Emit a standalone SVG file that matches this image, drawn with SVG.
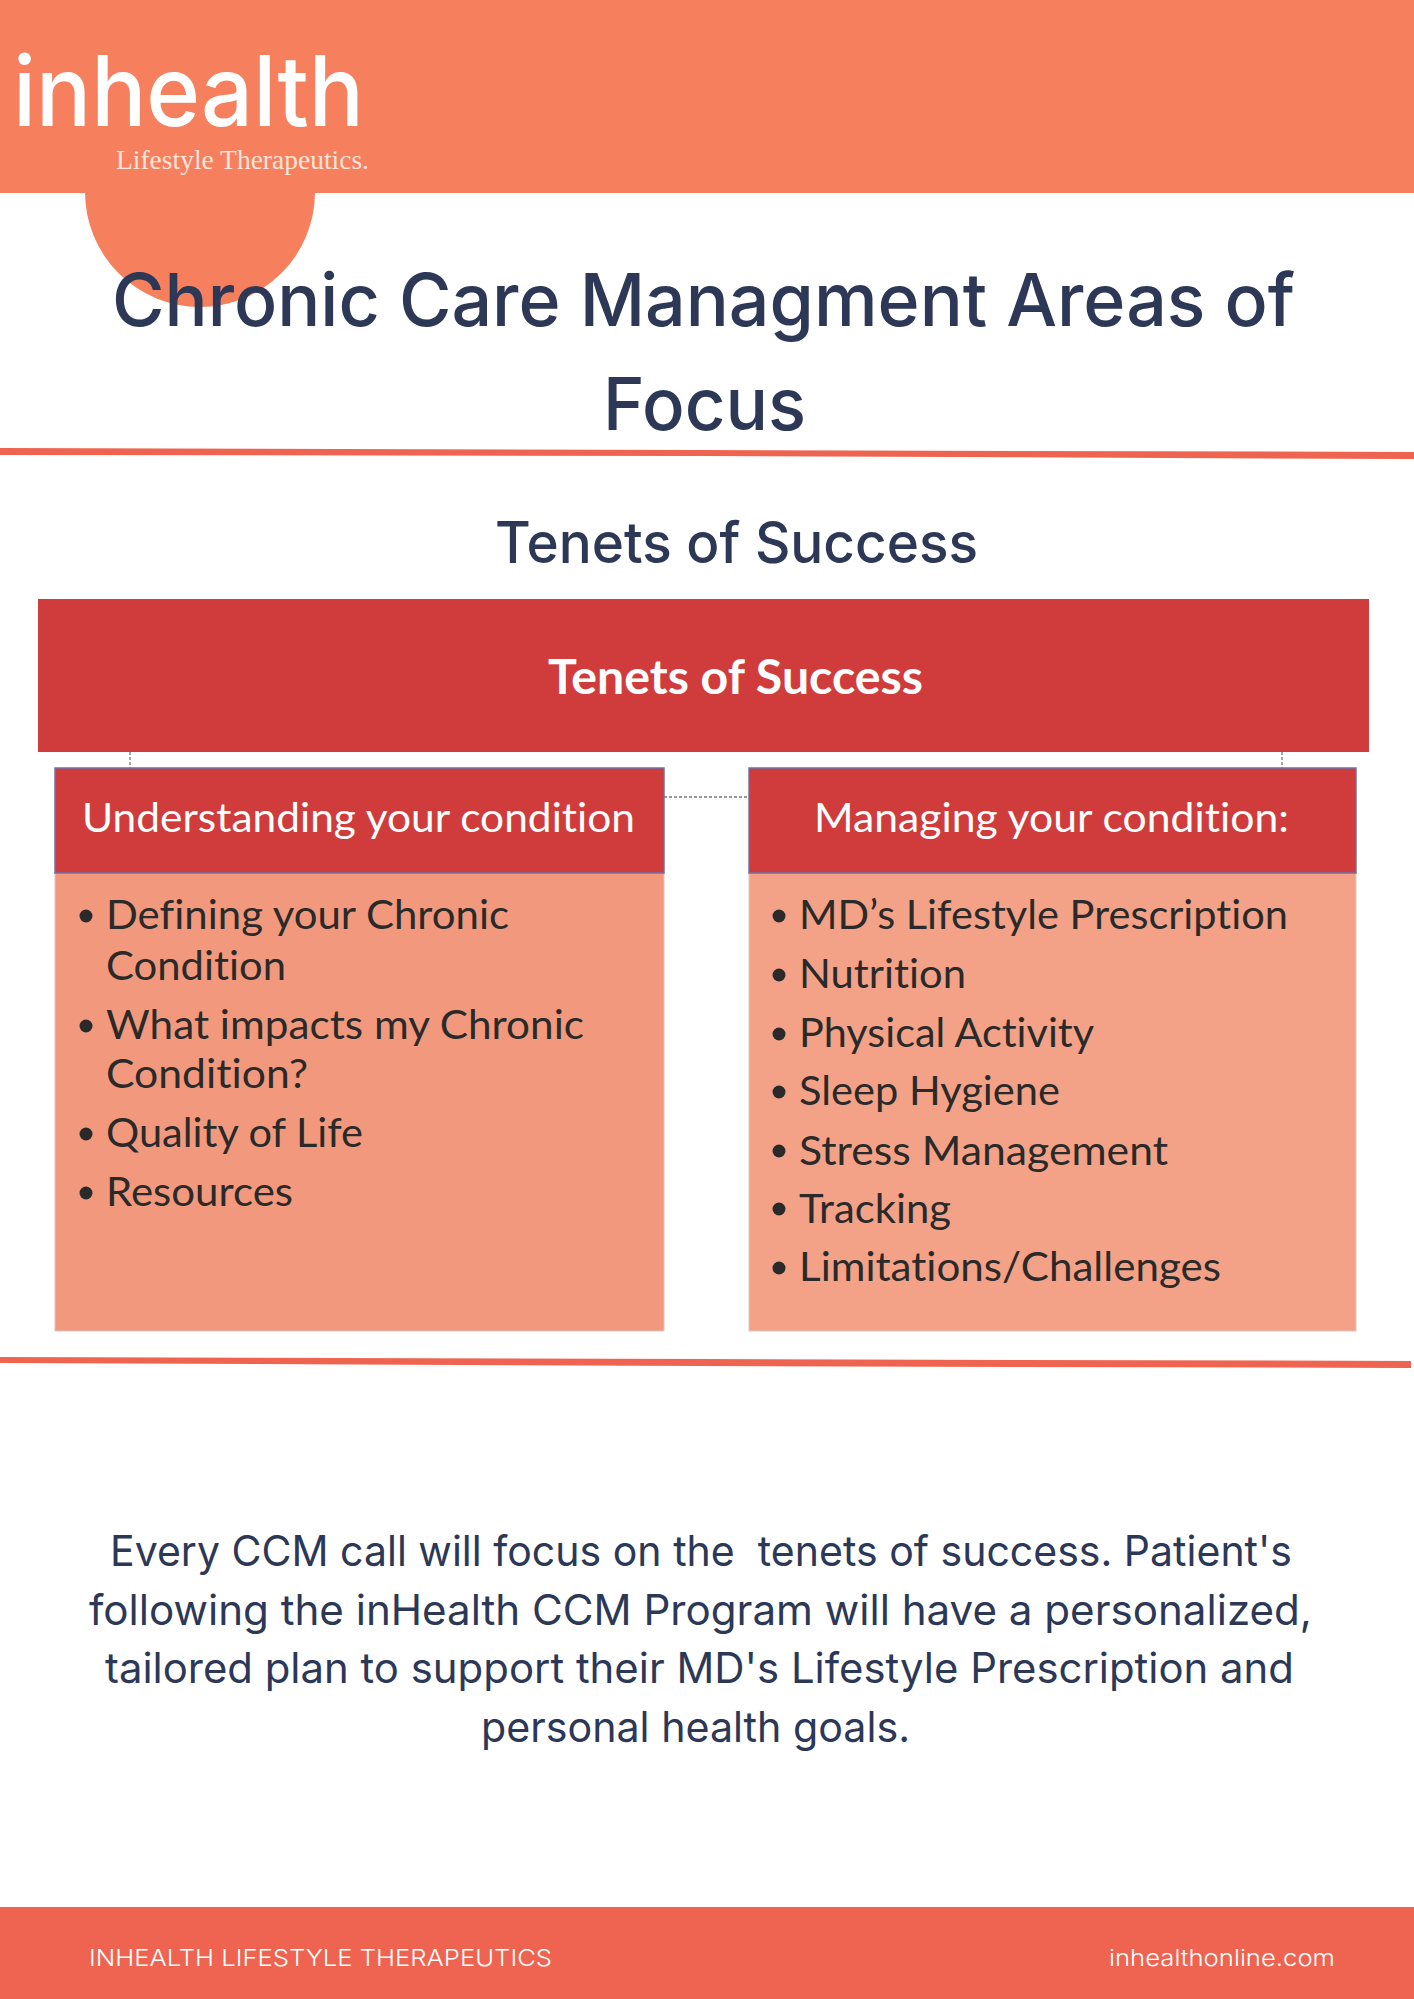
<svg xmlns="http://www.w3.org/2000/svg" width="1414" height="1999" viewBox="0 0 1414 1999">
<style>
.head{font-family:"Inter","Liberation Sans",sans-serif;fill:#2c3856;font-weight:500}
.para{font-family:"Inter","Liberation Sans",sans-serif;fill:#2c3856;font-size:42px;font-weight:400}
.cal{font-family:"Lato","Liberation Sans",sans-serif;font-variant-ligatures:none}
.hdr{font-size:41px;fill:#fff}
.item{font-size:41px;fill:#2a2a2a}
.foot{font-family:"Inter","Liberation Sans",sans-serif;fill:#fff;font-size:23px;font-weight:300}
.conn{stroke:#777;stroke-width:1.3;stroke-dasharray:3 2;fill:none}
.hbox{fill:#d03c3c;stroke:#6d70a8;stroke-width:1.5}
.rule{fill:#ee6450}
.dot{fill:#2a2a2a}
</style>
<rect width="1414" height="1999" fill="#fff"/>
<g id="header">
<circle cx="200" cy="192" r="115" fill="#f67f5d"/>
<rect width="1414" height="193" fill="#f67f5d"/>
<text x="13" y="126" font-family="Inter,'Liberation Sans',sans-serif" font-size="98" font-weight="500" fill="#fff" textLength="351" lengthAdjust="spacingAndGlyphs">inhealth</text>
<text x="116" y="169" font-family="'Liberation Serif',serif" font-size="27" fill="#fde4da" textLength="253" lengthAdjust="spacingAndGlyphs">Lifestyle Therapeutics.</text>
</g>
<g id="title">
<text class="head" x="112" y="326" font-size="73" textLength="1183" lengthAdjust="spacingAndGlyphs">Chronic Care Managment Areas of</text>
<text class="head" x="603" y="430" font-size="73" textLength="203" lengthAdjust="spacingAndGlyphs">Focus</text>
</g>
<polygon class="rule" points="0,448 700,450 1414,452 1414,459 700,456 0,455"/>
<text class="head" x="495" y="563" font-size="57" textLength="483" lengthAdjust="spacingAndGlyphs">Tenets of Success</text>
<g id="connectors">
<line class="conn" x1="130" y1="752" x2="130" y2="768"/>
<line class="conn" x1="1282" y1="752" x2="1282" y2="768"/>
<line class="conn" x1="664" y1="797" x2="749" y2="797"/>
</g>
<g id="banner">
<rect x="38" y="599" width="1331" height="153" fill="#d03c3c"/>
<text class="cal" x="548" y="694" font-size="47" font-weight="700" fill="#fff" textLength="375" lengthAdjust="spacingAndGlyphs">Tenets of Success</text>
</g>
<g id="left-card">
<rect x="55" y="873" width="609" height="458" fill="#f2997d" stroke="#d9c8c0" stroke-width="1"/>
<rect class="hbox" x="55" y="768" width="609" height="105"/>
<text class="cal hdr" x="82" y="832" textLength="553" lengthAdjust="spacingAndGlyphs">Understanding your condition</text>
<circle class="dot" cx="86" cy="916" r="6.5"/>
<text class="cal item" x="106" y="929" textLength="403" lengthAdjust="spacingAndGlyphs">Defining your Chronic</text>
<text class="cal item" x="106" y="980" textLength="180" lengthAdjust="spacingAndGlyphs">Condition</text>
<circle class="dot" cx="86" cy="1026" r="6.5"/>
<text class="cal item" x="106" y="1039" textLength="478" lengthAdjust="spacingAndGlyphs">What impacts my Chronic</text>
<text class="cal item" x="106" y="1088" textLength="202" lengthAdjust="spacingAndGlyphs">Condition?</text>
<circle class="dot" cx="86" cy="1134" r="6.5"/>
<text class="cal item" x="106" y="1147" textLength="257" lengthAdjust="spacingAndGlyphs">Quality of Life</text>
<circle class="dot" cx="86" cy="1193" r="6.5"/>
<text class="cal item" x="106" y="1206" textLength="187" lengthAdjust="spacingAndGlyphs">Resources</text>
</g>
<g id="right-card">
<rect x="749" y="873" width="607" height="458" fill="#f4a287" stroke="#d9c8c0" stroke-width="1"/>
<rect class="hbox" x="749" y="768" width="607" height="105"/>
<text class="cal hdr" x="814" y="832" textLength="475" lengthAdjust="spacingAndGlyphs">Managing your condition:</text>
<circle class="dot" cx="779" cy="916" r="6.5"/>
<text class="cal item" x="799" y="929" textLength="489" lengthAdjust="spacingAndGlyphs">MD’s Lifestyle Prescription</text>
<circle class="dot" cx="779" cy="975" r="6.5"/>
<text class="cal item" x="799" y="988" textLength="167" lengthAdjust="spacingAndGlyphs">Nutrition</text>
<circle class="dot" cx="779" cy="1034" r="6.5"/>
<text class="cal item" x="799" y="1047" textLength="295" lengthAdjust="spacingAndGlyphs">Physical Activity</text>
<circle class="dot" cx="779" cy="1092" r="6.5"/>
<text class="cal item" x="799" y="1105" textLength="261" lengthAdjust="spacingAndGlyphs">Sleep Hygiene</text>
<circle class="dot" cx="779" cy="1151" r="6.5"/>
<text class="cal item" x="799" y="1165" textLength="369" lengthAdjust="spacingAndGlyphs">Stress Management</text>
<circle class="dot" cx="779" cy="1209" r="6.5"/>
<text class="cal item" x="799" y="1223" textLength="152" lengthAdjust="spacingAndGlyphs">Tracking</text>
<circle class="dot" cx="779" cy="1268" r="6.5"/>
<text class="cal item" x="799" y="1281" textLength="422" lengthAdjust="spacingAndGlyphs">Limitations/Challenges</text>
</g>
<polygon class="rule" points="0,1357 700,1359 1411,1361 1411,1368 700,1366 0,1363"/>
<g id="paragraph">
<text class="para" x="110" y="1566" textLength="1182" lengthAdjust="spacingAndGlyphs" xml:space="preserve">Every CCM call will focus on the  tenets of success. Patient's</text>
<text class="para" x="89" y="1625" textLength="1223" lengthAdjust="spacingAndGlyphs">following the inHealth CCM Program will have a personalized,</text>
<text class="para" x="105" y="1683" textLength="1189" lengthAdjust="spacingAndGlyphs">tailored plan to support their MD's Lifestyle Prescription and</text>
<text class="para" x="481" y="1742" textLength="429" lengthAdjust="spacingAndGlyphs">personal health goals.</text>
</g>
<g id="footer">
<rect y="1907" width="1414" height="92" fill="#ee6450"/>
<text class="foot" x="89" y="1966" textLength="463" lengthAdjust="spacingAndGlyphs">INHEALTH LIFESTYLE THERAPEUTICS</text>
<text class="foot" x="1109" y="1966" textLength="226" lengthAdjust="spacingAndGlyphs">inhealthonline.com</text>
</g>
</svg>
